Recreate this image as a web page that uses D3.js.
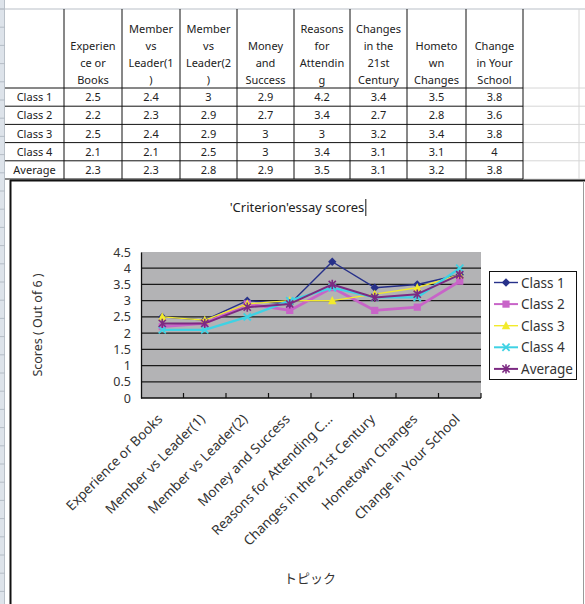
<!DOCTYPE html>
<html>
<head>
<meta charset="utf-8">
<script src="https://cdn.jsdelivr.net/npm/d3@7"></script>
<style>
  html, body { margin: 0; padding: 0; background: #fff; }
  svg { display: block; }
  text { font-family: "Noto Sans", "Noto Sans CJK JP", sans-serif; }
</style>
</head>
<body>
<script>
// ---- data ----
const topics = [
  "Experience or Books",
  "Member vs Leader(1)",
  "Member vs Leader(2)",
  "Money and Success",
  "Reasons for Attending C...",
  "Changes in the 21st Century",
  "Hometown Changes",
  "Change in Your School"
];
// wrapped header text as it appears in the spreadsheet cells
const headerLines = [
  ["Experien", "ce or", "Books"],
  ["Member", "vs", "Leader(1", ")"],
  ["Member", "vs", "Leader(2", ")"],
  ["Money", "and", "Success"],
  ["Reasons", "for", "Attendin", "g"],
  ["Changes", "in the", "21st", "Century"],
  ["Hometo", "wn", "Changes"],
  ["Change", "in Your", "School"]
];
const seriesNames = ["Class 1", "Class 2", "Class 3", "Class 4", "Average"];
const class1  = [2.5, 2.4, 3.0, 2.9, 4.2, 3.4, 3.5, 3.8];
const class2  = [2.2, 2.3, 2.9, 2.7, 3.4, 2.7, 2.8, 3.6];
const class3  = [2.5, 2.4, 2.9, 3.0, 3.0, 3.2, 3.4, 3.8];
const class4  = [2.1, 2.1, 2.5, 3.0, 3.4, 3.1, 3.1, 4.0];
const average = [2.3, 2.3, 2.8, 2.9, 3.5, 3.1, 3.2, 3.8];
const yTicks = [0, 0.5, 1, 1.5, 2, 2.5, 3, 3.5, 4, 4.5];
const chartTitle = "'Criterion'essay scores";
const yTitle = "Scores ( Out of 6 )";
const xTitle = "トピック";

const seriesValues = [class1, class2, class3, class4, average];
const seriesStyle = [
  { color: "#27318a", width: 1.4, marker: "diamond" },
  { color: "#c864c8", width: 2.8, marker: "square" },
  { color: "#f2ea2c", width: 1.4, marker: "triangle" },
  { color: "#3fd2e4", width: 2.4, marker: "cross" },
  { color: "#7c2a82", width: 2.0, marker: "star" }
];

const W = 585, H = 604;
const svg = d3.select("body").append("svg").attr("width", W).attr("height", H);

// ---- spreadsheet backdrop ----
const colX = [5, 64, 122, 180, 237, 294, 350, 407, 466, 523, 579];
const rowY = [9, 88, 106.2, 124.4, 142.6, 160.8, 179];

// row-header strip on the left
svg.append("rect").attr("x", 0).attr("y", 0).attr("width", 4.5).attr("height", H).attr("fill", "#dde3ea");
svg.append("line").attr("x1", 4.5).attr("x2", 4.5).attr("y1", 0).attr("y2", H).attr("stroke", "#b9c0c8");
d3.range(9, H, 18.2).forEach(y => {
  svg.append("line").attr("x1", 0).attr("x2", 4.5).attr("y1", y).attr("y2", y).attr("stroke", "#aab2bc").attr("stroke-width", 0.8);
});
// top column-header edge
svg.append("line").attr("x1", 0).attr("x2", W).attr("y1", rowY[0]).attr("y2", rowY[0]).attr("stroke", "#b9c0c8").attr("stroke-width", 1.2);

// light gridlines in the empty column to the right
const grid = svg.append("g").attr("stroke", "#d6d6d6").attr("stroke-width", 1);
rowY.slice(1).forEach(y => grid.append("line").attr("x1", colX[9]).attr("x2", W).attr("y1", y).attr("y2", y));
grid.append("line").attr("x1", colX[10]).attr("x2", colX[10]).attr("y1", rowY[0]).attr("y2", rowY[6]);

// table borders
const tb = svg.append("g").attr("stroke", "#111").attr("stroke-width", 1);
colX.slice(1, 10).forEach(x => tb.append("line").attr("x1", x).attr("x2", x).attr("y1", rowY[0]).attr("y2", rowY[6]));
rowY.slice(1).forEach(y => tb.append("line").attr("x1", colX[0]).attr("x2", colX[9]).attr("y1", y).attr("y2", y));

// header cells (bottom aligned, centred)
headerLines.forEach((lines, i) => {
  const cx = (colX[i + 1] + colX[i + 2]) / 2;
  lines.forEach((ln, j) => {
    svg.append("text")
      .attr("x", cx)
      .attr("y", 84 - (lines.length - 1 - j) * 17)
      .attr("text-anchor", "middle")
      .attr("font-size", 11)
      .attr("fill", "#222")
      .text(ln);
  });
});
// data rows
seriesNames.forEach((name, r) => {
  const yMid = (rowY[r + 1] + rowY[r + 2]) / 2 + 4;
  svg.append("text").attr("x", (colX[0] + colX[1]) / 2).attr("y", yMid)
    .attr("text-anchor", "middle").attr("font-size", 11).attr("fill", "#222").text(name);
  seriesValues[r].forEach((v, c) => {
    svg.append("text").attr("x", (colX[c + 1] + colX[c + 2]) / 2).attr("y", yMid)
      .attr("text-anchor", "middle").attr("font-size", 11).attr("fill", "#222").text(String(v));
  });
});

// ---- chart object ----
svg.append("rect").attr("x", 11).attr("y", 181).attr("width", W - 11).attr("height", H - 181).attr("fill", "#fff");
svg.append("line").attr("x1", 10).attr("x2", W).attr("y1", 180.5).attr("y2", 180.5).attr("stroke", "#111").attr("stroke-width", 2);
svg.append("line").attr("x1", 10.5).attr("x2", 10.5).attr("y1", 180).attr("y2", H).attr("stroke", "#111").attr("stroke-width", 2);
svg.append("line").attr("x1", 583.5).attr("x2", 583.5).attr("y1", 181).attr("y2", H).attr("stroke", "#9a9a9a").attr("stroke-width", 1);

// title with the edit caret right after it
const title = svg.append("text").attr("x", 297).attr("y", 212).attr("text-anchor", "middle")
  .attr("font-size", 13).attr("fill", "#222").text(chartTitle);
const tbox = title.node().getBBox();
svg.append("line").attr("x1", tbox.x + tbox.width + 1.5).attr("x2", tbox.x + tbox.width + 1.5)
  .attr("y1", 199).attr("y2", 216).attr("stroke", "#111").attr("stroke-width", 1);

// plot area
const plot = { left: 141, right: 481, top: 252, bottom: 398 };
const x = d3.scaleBand().domain(topics).range([plot.left, plot.right]).paddingInner(0).paddingOuter(0);
const y = d3.scaleLinear().domain([0, 4.5]).range([plot.bottom, plot.top]);
const cx = d => x(d) + x.bandwidth() / 2;

svg.append("rect").attr("x", plot.left).attr("y", plot.top)
  .attr("width", plot.right - plot.left).attr("height", plot.bottom - plot.top).attr("fill", "#b3b3b5");

// horizontal gridlines
svg.append("g").selectAll("line").data(yTicks.filter(t => t > 0 && t < 4.5)).join("line")
  .attr("x1", plot.left).attr("x2", plot.right)
  .attr("y1", d => y(d)).attr("y2", d => y(d))
  .attr("stroke", "#1a1a1a").attr("stroke-width", 1.3);

// y axis
const yAxis = svg.append("g").attr("transform", `translate(${plot.left},0)`)
  .call(d3.axisLeft(y).tickValues(yTicks).tickSize(0).tickPadding(10).tickFormat(d => String(d)));
yAxis.select(".domain").attr("stroke", "#111").attr("stroke-width", 1.3);
yAxis.selectAll("text").attr("font-size", 12.5).attr("fill", "#333")
  .attr("font-family", "'Liberation Sans', Arial, sans-serif");

// x axis: ticks between categories, pointing into the plot
const boundaries = topics.slice(1).map(t => x(t));
const xAxis = svg.append("g").attr("transform", `translate(0,${plot.bottom})`);
xAxis.append("line").attr("x1", plot.left).attr("x2", plot.right).attr("y1", 0).attr("y2", 0)
  .attr("stroke", "#111").attr("stroke-width", 1.3);
xAxis.selectAll("line.tick").data(boundaries.concat([plot.right])).join("line").attr("class", "tick")
  .attr("x1", d => d).attr("x2", d => d).attr("y1", 0).attr("y2", -5)
  .attr("stroke", "#111").attr("stroke-width", 1.2);
xAxis.selectAll("text").data(topics).join("text")
  .attr("transform", d => `translate(${cx(d) + 1},${22}) rotate(-45)`)
  .attr("text-anchor", "end")
  .attr("font-size", 13.5).attr("fill", "#333")
  .text(d => d);

// axis titles
svg.append("text").attr("transform", `translate(42,325) rotate(-90)`)
  .attr("text-anchor", "middle").attr("font-size", 12.5).attr("fill", "#333").text(yTitle);
svg.append("text").attr("x", 310).attr("y", 583).attr("text-anchor", "middle")
  .attr("font-size", 13).attr("fill", "#333").text(xTitle);

// markers
function drawMarker(g, type, color) {
  const s = 3.6;
  if (type === "diamond") {
    g.append("path").attr("d", `M0,${-s - 0.6}L${s + 0.6},0L0,${s + 0.6}L${-s - 0.6},0Z`).attr("fill", color);
  } else if (type === "square") {
    g.append("rect").attr("x", -s).attr("y", -s).attr("width", 2 * s).attr("height", 2 * s).attr("fill", color);
  } else if (type === "triangle") {
    g.append("path").attr("d", `M0,${-s - 1}L${s + 0.6},${s}L${-s - 0.6},${s}Z`).attr("fill", color);
  } else if (type === "cross") {
    g.append("path").attr("d", `M${-s},${-s}L${s},${s}M${-s},${s}L${s},${-s}`).attr("stroke", color).attr("stroke-width", 1.8);
  } else if (type === "star") {
    g.append("path").attr("d", `M${-s},${-s}L${s},${s}M${-s},${s}L${s},${-s}M0,${-s - 1}L0,${s + 1}`)
      .attr("stroke", color).attr("stroke-width", 1.6);
  }
}

const line = d3.line().x((d, i) => cx(topics[i])).y(d => y(d));
seriesValues.forEach((vals, k) => {
  const st = seriesStyle[k];
  const g = svg.append("g");
  g.append("path").datum(vals).attr("d", line).attr("fill", "none")
    .attr("stroke", st.color).attr("stroke-width", st.width).attr("stroke-linejoin", "round");
  vals.forEach((v, i) => {
    drawMarker(g.append("g").attr("transform", `translate(${cx(topics[i])},${y(v)})`), st.marker, st.color);
  });
});

// legend
const leg = { x: 489, y: 271, w: 87, h: 108 };
svg.append("rect").attr("x", leg.x + 0.5).attr("y", leg.y + 0.5).attr("width", leg.w).attr("height", leg.h)
  .attr("fill", "#fff").attr("stroke", "#111").attr("stroke-width", 1);
seriesNames.forEach((name, k) => {
  const st = seriesStyle[k];
  const ly = leg.y + 11.5 + k * 21.6;
  const g = svg.append("g");
  g.append("line").attr("x1", leg.x + 5).attr("x2", leg.x + 29).attr("y1", ly).attr("y2", ly)
    .attr("stroke", st.color).attr("stroke-width", Math.min(st.width, 2));
  drawMarker(g.append("g").attr("transform", `translate(${leg.x + 17},${ly})`), st.marker, st.color);
  svg.append("text").attr("x", leg.x + 32).attr("y", ly + 5).attr("font-size", 13.5).attr("fill", "#333").text(name);
});
</script>
</body>
</html>
